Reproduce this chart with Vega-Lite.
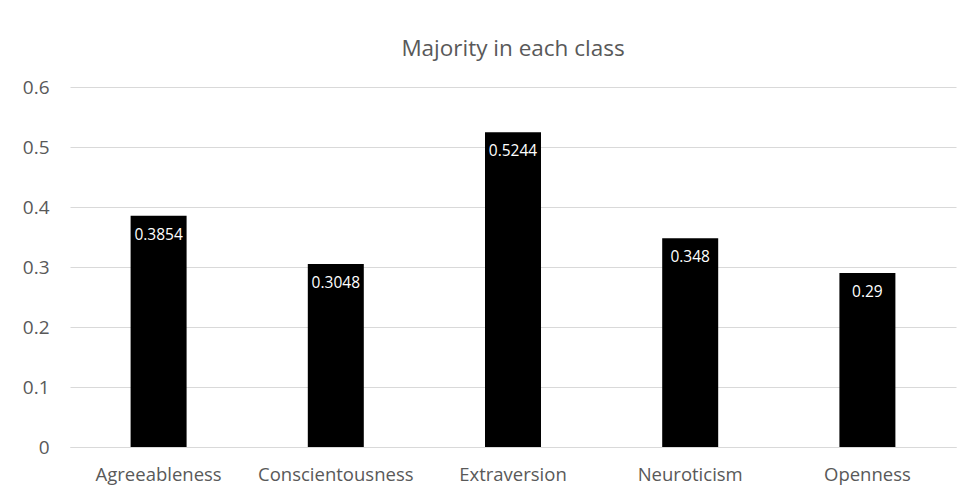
{
  "$schema": "https://vega.github.io/schema/vega-lite/v6.json",
  "width": 886,
  "height": 360,
  "autosize": {"type": "none"},
  "padding": {"left": 70, "top": 87, "right": 6, "bottom": 47},
  "background": "white",
  "title": {
    "text": "Majority in each class",
    "fontSize": 22.5,
    "font": "Open Sans",
    "fontWeight": "normal",
    "color": "#595959",
    "anchor": "middle",
    "offset": 18
  },
  "data": {
    "values": [
      {"trait": "Agreeableness", "value": 0.3854, "label": "0.3854"},
      {"trait": "Conscientousness", "value": 0.3048, "label": "0.3048"},
      {"trait": "Extraversion", "value": 0.5244, "label": "0.5244"},
      {"trait": "Neuroticism", "value": 0.348, "label": "0.348"},
      {"trait": "Openness", "value": 0.29, "label": "0.29"}
    ]
  },
  "encoding": {
    "x": {
      "field": "trait",
      "type": "nominal",
      "sort": null,
      "scale": {"paddingInner": 0.684, "paddingOuter": 0.342},
      "axis": {
        "title": null,
        "labelAngle": 0,
        "labelFont": "Open Sans",
        "labelFontSize": 18.5,
        "labelColor": "#595959",
        "labelPadding": 18,
        "domain": true,
        "domainColor": "#d9d9d9",
        "ticks": false,
        "grid": false
      }
    },
    "y": {
      "field": "value",
      "type": "quantitative",
      "scale": {"domain": [0, 0.6], "nice": false},
      "axis": {
        "title": null,
        "values": [0, 0.1, 0.2, 0.3, 0.4, 0.5, 0.6],
        "format": "~g",
        "labelFont": "Open Sans",
        "labelFontSize": 19,
        "labelColor": "#595959",
        "labelPadding": 21,
        "domain": false,
        "ticks": false,
        "grid": true,
        "gridColor": "#d9d9d9",
        "gridWidth": 1
      }
    }
  },
  "layer": [
    {"mark": {"type": "bar", "color": "#000000"}},
    {
      "mark": {"type": "text", "color": "white", "baseline": "top", "dy": 12, "font": "Open Sans", "fontSize": 15.5},
      "encoding": {"text": {"field": "label"}}
    }
  ],
  "config": {"view": {"stroke": null}}
}
